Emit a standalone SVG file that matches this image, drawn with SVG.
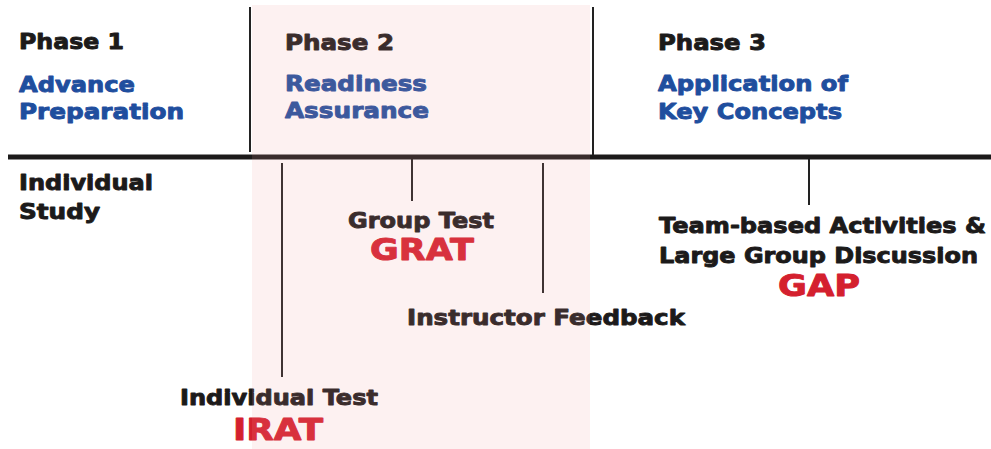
<svg xmlns="http://www.w3.org/2000/svg" width="991" height="449" viewBox="0 0 991 449">
<style>
text{font-family:"DejaVu Sans","Liberation Sans",sans-serif;font-weight:bold;stroke-width:0.9px;stroke-linejoin:round;}
.k{fill:#1c1a1a;stroke:#1c1a1a;font-size:21px;}
.b{fill:#1f4e9e;stroke:#1f4e9e;font-size:21px;}
.r{fill:#d4202e;stroke:#d4202e;font-size:30px;}
.ln{stroke:#222;stroke-width:2;fill:none;}
.axis{stroke:#1c1a1a;stroke-width:5;fill:none;}
</style>
<rect width="991" height="449" fill="#ffffff"/>
<g id="connectors">
<line class="axis" x1="8" y1="157" x2="991" y2="157"/>
<line class="ln" x1="250" y1="7" x2="250" y2="152"/>
<line class="ln" x1="593" y1="7" x2="593" y2="155"/>
<line class="ln" x1="282" y1="163" x2="282" y2="377"/>
<line class="ln" x1="412" y1="159" x2="412" y2="201"/>
<line class="ln" x1="543" y1="163" x2="543" y2="293"/>
<line class="ln" x1="809" y1="159" x2="809" y2="205"/>
</g>
<g id="phase1">
<text class="k" x="19" y="49" textLength="105" lengthAdjust="spacingAndGlyphs">Phase 1</text>
<text class="b" x="19" y="92" textLength="116" lengthAdjust="spacingAndGlyphs">Advance</text>
<text class="b" x="19" y="119" textLength="165" lengthAdjust="spacingAndGlyphs">Preparation</text>
</g>
<g id="phase2">
<text class="k" x="285" y="50" textLength="109" lengthAdjust="spacingAndGlyphs">Phase 2</text>
<text class="b" x="285" y="91" textLength="142" lengthAdjust="spacingAndGlyphs">Readiness</text>
<text class="b" x="285" y="118" textLength="144" lengthAdjust="spacingAndGlyphs">Assurance</text>
</g>
<g id="phase3">
<text class="k" x="658" y="50" textLength="108" lengthAdjust="spacingAndGlyphs">Phase 3</text>
<text class="b" x="658" y="91" textLength="190" lengthAdjust="spacingAndGlyphs">Application of</text>
<text class="b" x="658" y="119" textLength="184" lengthAdjust="spacingAndGlyphs">Key Concepts</text>
</g>
<g id="individual-study">
<text class="k" x="19" y="190" textLength="134" lengthAdjust="spacingAndGlyphs">Individual</text>
<text class="k" x="19" y="219" textLength="81" lengthAdjust="spacingAndGlyphs">Study</text>
</g>
<g id="group-test">
<text class="k" x="348" y="228" textLength="146" lengthAdjust="spacingAndGlyphs">Group Test</text>
<text class="r" x="370" y="260" textLength="104" lengthAdjust="spacingAndGlyphs">GRAT</text>
</g>
<g id="instructor-feedback">
<text class="k" x="407" y="325" textLength="278" lengthAdjust="spacingAndGlyphs">Instructor Feedback</text>
</g>
<g id="individual-test">
<text class="k" x="180" y="405" textLength="198" lengthAdjust="spacingAndGlyphs">Individual Test</text>
<text class="r" x="233" y="440" textLength="90" lengthAdjust="spacingAndGlyphs">IRAT</text>
</g>
<g id="team-activities">
<text class="k" x="659" y="233" textLength="327" lengthAdjust="spacingAndGlyphs">Team-based Activities &amp;</text>
<text class="k" x="659" y="263" textLength="319" lengthAdjust="spacingAndGlyphs">Large Group Discussion</text>
<text class="r" x="778" y="296" textLength="82" lengthAdjust="spacingAndGlyphs">GAP</text>
</g>
<rect id="phase2-band" x="252" y="5" width="338" height="444" fill="#f39a9a" fill-opacity="0.14"/>
</svg>
